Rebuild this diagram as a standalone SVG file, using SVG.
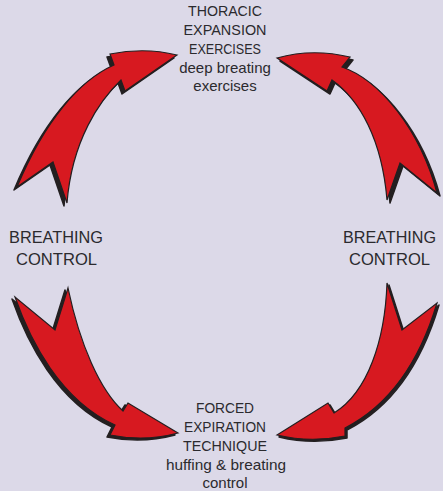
<svg xmlns="http://www.w3.org/2000/svg" xmlns:xlink="http://www.w3.org/1999/xlink" width="443" height="491" viewBox="0 0 443 491">
<style>
.lbl{font-family:"Liberation Sans",Arial,sans-serif;fill:#2b2a2e;text-anchor:middle}
.s15{font-size:15px}
.s17{font-size:17px}
.shadow{fill:#231f20;stroke:#231f20;stroke-width:1.5;stroke-linejoin:round}
.arrow{fill:#d71920;stroke:#231f20;stroke-width:1.2;stroke-linejoin:miter}
</style>
<defs>
<path id="a-tl" d="M177,55 L125,91 L121,80 C100,100 72,140 67,203 L53,162 L17,187 C45,120 80,80 114,65 L110,54 Q145,47 177,55 Z"/>
<path id="a-tr" d="M277,58 Q312,48 350,57 L342,67 C380,80 420,130 437,193 L400,163 L387,200 C382,140 360,100 332,80 L327,91 Z"/>
<path id="a-bl" d="M178,433 L128,403 L123,411 C100,390 80,345 68,288 L55,330 L15,297 C30,340 60,400 115,425 L110,435 Q145,442 178,433 Z"/>
<path id="a-br" d="M277,435 L328,403 L334,413 C368,392 385,340 387,283 L402,330 L437,303 C420,360 390,405 345,428 L345,436 Q310,443 277,435 Z"/>
</defs>
<rect x="0" y="0" width="443" height="491" fill="#dcd9e8"/>
<g id="connectors">
<use xlink:href="#a-tl" class="shadow" transform="translate(-3,3)"/>
<use xlink:href="#a-tl" class="arrow"/>
<use xlink:href="#a-tr" class="shadow" transform="translate(3,3)"/>
<use xlink:href="#a-tr" class="arrow"/>
<use xlink:href="#a-bl" class="shadow" transform="translate(-3,2)"/>
<use xlink:href="#a-bl" class="arrow"/>
<use xlink:href="#a-br" class="shadow" transform="translate(2,2)"/>
<use xlink:href="#a-br" class="arrow"/>
</g>
<g id="node-thoracic" class="lbl s15">
<text x="225" y="16" textLength="74" lengthAdjust="spacingAndGlyphs">THORACIC</text>
<text x="225" y="35" textLength="83" lengthAdjust="spacingAndGlyphs">EXPANSION</text>
<text x="225" y="54" textLength="72" lengthAdjust="spacingAndGlyphs">EXERCISES</text>
<text x="225" y="73">deep breating</text>
<text x="225" y="91">exercises</text>
</g>
<g id="node-breathing-left" class="lbl s17">
<text x="56" y="243" textLength="94" lengthAdjust="spacingAndGlyphs">BREATHING</text>
<text x="56.5" y="265" textLength="81" lengthAdjust="spacingAndGlyphs">CONTROL</text>
</g>
<g id="node-breathing-right" class="lbl s17">
<text x="389.5" y="243" textLength="93" lengthAdjust="spacingAndGlyphs">BREATHING</text>
<text x="389.5" y="265" textLength="81" lengthAdjust="spacingAndGlyphs">CONTROL</text>
</g>
<g id="node-fet" class="lbl s15">
<text x="225" y="413" textLength="58" lengthAdjust="spacingAndGlyphs">FORCED</text>
<text x="225" y="432" textLength="82" lengthAdjust="spacingAndGlyphs">EXPIRATION</text>
<text x="225" y="451" textLength="84" lengthAdjust="spacingAndGlyphs">TECHNIQUE</text>
<text x="226" y="470" textLength="120" lengthAdjust="spacingAndGlyphs">huffing &amp; breating</text>
<text x="225" y="488">control</text>
</g>
</svg>
